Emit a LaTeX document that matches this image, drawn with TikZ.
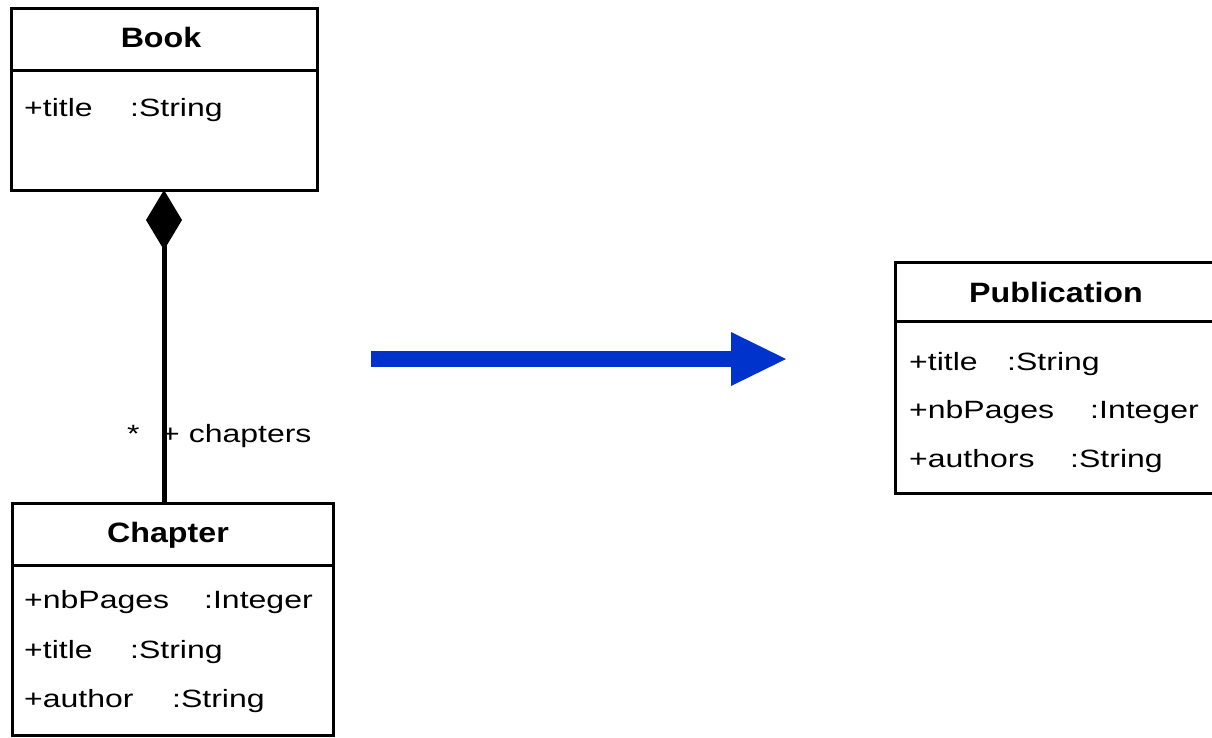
\documentclass[tikz,border=0pt]{standalone}
\usepackage{fontspec}
\usetikzlibrary{arrows.meta}
\newfontfamily\attrfont[FakeStretch=1.28]{Liberation Sans}
\newfontfamily\namefont[FakeStretch=1.15]{Liberation Sans}
\definecolor{arrowblue}{RGB}{0,51,204}
\begin{document}
\begin{tikzpicture}[x=1pt, y=-1pt,
  classbox/.style={draw=black, line width=3pt, inner sep=0pt, outer sep=0pt},
  sepline/.style={line width=3pt},
  cname/.style={font=\namefont\bfseries\fontsize{28}{34}\selectfont, anchor=base, inner sep=0pt},
  attr/.style={font=\attrfont\fontsize{25}{30}\selectfont, anchor=base west, inner sep=0pt},
  assoc/.style={line width=5pt, line cap=butt,
    {Diamond[length=60pt, width=36pt, line width=0pt]}-},
  bigarrow/.style={draw=arrowblue, line width=16pt, line cap=butt,
    -{Triangle[length=55pt, width=54pt, line width=0pt, fill=arrowblue]}}
]
\useasboundingbox (0,0) rectangle (1212,737);
\fill[white] (0,0) rectangle (1212,737);
\clip (0,0) rectangle (1212,737);

% Book class
\node[classbox, minimum width=306pt, minimum height=181.5pt] (book) at (164,99.25) {};
\draw[sepline] (book.west |- 0,70) -- (book.east |- 0,70);
\node[cname] (bookName) at (161,47) {Book};
\node[attr] (bookTitle) at (24,116) {+title};
\node[attr] (bookTitleType) at (130,116) {:String};

% Chapter class
\node[classbox, minimum width=321.5pt, minimum height=232pt] (chapter) at (172.75,619.5) {};
\draw[sepline] (chapter.west |- 0,565) -- (chapter.east |- 0,565);
\node[cname] (chapterName) at (168,542) {Chapter};
\node[attr] (chNbPages) at (24,608) {+nbPages};
\node[attr] (chNbPagesType) at (204,608) {:Integer};
\node[attr] (chTitle) at (24,658) {+title};
\node[attr] (chTitleType) at (130,658) {:String};
\node[attr] (chAuthor) at (24,707) {+author};
\node[attr] (chAuthorType) at (172,707) {:String};

% Publication class
\node[classbox, minimum width=322pt, minimum height=231pt] (publication) at (1056,377.5) {};
\draw[sepline] (publication.west |- 0,321.5) -- (publication.east |- 0,321.5);
\node[cname] (pubName) at (1056,302) {Publication};
\node[attr] (pubTitle) at (909,370) {+title};
\node[attr] (pubTitleType) at (1007,370) {:String};
\node[attr] (pubNbPages) at (909,418.5) {+nbPages};
\node[attr] (pubNbPagesType) at (1090,418.5) {:Integer};
\node[attr] (pubAuthors) at (909,467) {+authors};
\node[attr] (pubAuthorsType) at (1070,467) {:String};

% Composition Book <>-- Chapter
\draw[assoc] (book.south) -- (book.south |- chapter.north);
\node[attr] (multiplicity) at (127,442) {*};
\node[attr] (roleName) at (161,442) {+ chapters};

% Transformation arrow
\coordinate (arrowTail) at (371,359);
\coordinate (arrowTip) at (786,359);
\draw[bigarrow] (arrowTail) -- (arrowTip);
\end{tikzpicture}
\end{document}
